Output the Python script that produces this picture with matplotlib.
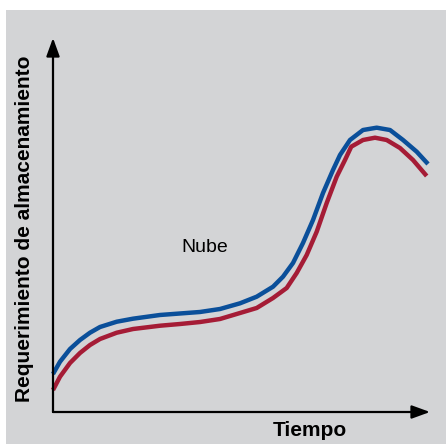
import matplotlib
matplotlib.use("Agg")
import matplotlib.pyplot as plt
from matplotlib.patches import Rectangle

# curves (time, storage), axes run 0..10
t_blue = [0.000, 0.186, 0.451, 0.716, 0.981, 1.247, 1.690, 2.122, 2.838, 3.369,
          3.899, 4.430, 4.960, 5.403, 5.836, 6.101, 6.366, 6.631, 6.897, 7.162,
          7.427, 7.613, 7.878, 8.223, 8.586, 8.939, 9.284, 9.647, 9.947]
s_blue = [1.016, 1.345, 1.684, 1.925, 2.120, 2.273, 2.414, 2.495, 2.594, 2.634,
          2.674, 2.754, 2.906, 3.083, 3.350, 3.618, 3.984, 4.519, 5.134, 5.856,
          6.471, 6.872, 7.273, 7.540, 7.602, 7.540, 7.273, 6.960, 6.631]
t_red = [0.000, 0.186, 0.451, 0.716, 0.981, 1.247, 1.690, 2.122, 2.838, 3.369,
         3.899, 4.430, 4.960, 5.403, 5.836, 6.199, 6.464, 6.729, 6.995, 7.260,
         7.525, 7.745, 7.911, 8.223, 8.541, 8.851, 9.204, 9.549, 9.912]
s_red = [0.588, 0.944, 1.310, 1.578, 1.791, 1.952, 2.120, 2.219, 2.307, 2.353,
         2.406, 2.487, 2.647, 2.781, 3.048, 3.316, 3.717, 4.198, 4.821, 5.588,
         6.291, 6.738, 7.094, 7.273, 7.334, 7.273, 7.059, 6.738, 6.310]

W, H = 446, 444
fig = plt.figure(figsize=(W/100, H/100), dpi=100)
fig.patch.set_facecolor("white")

# grey panel behind everything
bg = fig.add_axes([0, 0, 1, 1], zorder=0)
bg.set_xlim(0, W)
bg.set_ylim(H, 0)
bg.axis("off")
bg.add_patch(Rectangle((6, 10), W - 6, H - 10, facecolor="#d3d4d6", edgecolor="none"))
bg.text(310, 430, "Tiempo", ha="center", va="center", fontsize=15,
        fontweight="bold", family="Liberation Sans")
bg.text(25, 229, "Requerimiento de almacenamiento", ha="center",
        va="center", rotation=90, fontsize=15, fontweight="bold",
        family="Liberation Sans")

ax = fig.add_axes([53/W, 32/H, (430-53)/W, (412-38)/H], zorder=1)
ax.set_xlim(0, 10)
ax.set_ylim(0, 10)
ax.patch.set_visible(False)
for s in ax.spines.values():
  s.set_visible(False)
ax.set_xticks([])
ax.set_yticks([])

ax.plot(t_blue, s_blue, color="#0a4f9a", lw=3.2, solid_capstyle="butt",
        solid_joinstyle="round", clip_on=False)
ax.plot(t_red, s_red, color="#a51c36", lw=3.2, solid_capstyle="butt",
        solid_joinstyle="round", clip_on=False)

arrow = dict(arrowstyle="-|>,head_length=1.1,head_width=0.4", color="black",
             lw=1.6, shrinkA=0, shrinkB=0)
ax.annotate("", xy=(10, 0), xytext=(0, 0), arrowprops=arrow, annotation_clip=False)
ax.annotate("", xy=(0, 10), xytext=(0, 0), arrowprops=arrow, annotation_clip=False)

ax.text(4.03, 4.39, "Nube", ha="center", va="center", fontsize=14,
        family="Liberation Sans")

fig.savefig("out.png", dpi=100)
